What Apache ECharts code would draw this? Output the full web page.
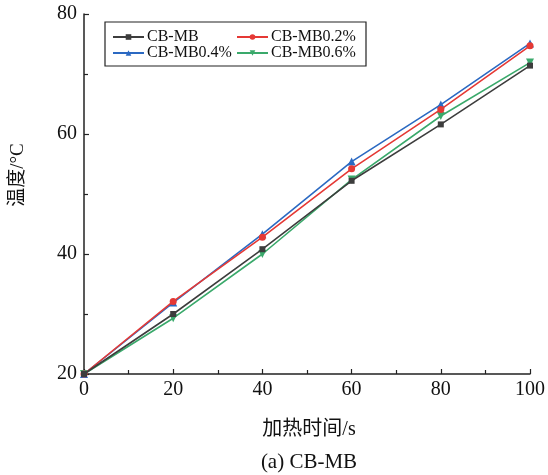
<!DOCTYPE html>
<html><head><meta charset="utf-8">
<script src="https://cdn.jsdelivr.net/npm/echarts@6/dist/echarts.min.js"></script>
<style>html,body{margin:0;padding:0;background:#fff}#c{width:548px;height:475px}</style>
</head><body><div id="c"></div>
<script>
var times = [0, 20, 40, 60, 80, 100];
var cbmb = [20, 30.0, 40.8, 52.2, 61.6, 71.4];
var cbmb02 = [20, 32.1, 42.8, 54.2, 64.1, 74.7];
var cbmb04 = [20, 31.9, 43.3, 55.4, 64.9, 75.1];
var cbmb06 = [20, 29.3, 40.0, 52.4, 63.0, 71.9];
var seriesNames = ['CB-MB', 'CB-MB0.2%', 'CB-MB0.4%', 'CB-MB0.6%'];
var xTitle = '加热时间/s';
var yTitle = '温度/°C';
var caption = '(a) CB-MB';

function pairs(v){ return times.map(function(t,i){ return [t, v[i]]; }); }
var FONT = '"Liberation Serif", "Noto Sans CJK SC", serif';
var colors = ['#3d3d3d', '#e53935', '#2b69c2', '#3aa96b'];
var symbols = ['rect', 'circle', 'triangle', 'triangle'];
var sizes = [6, 7, 8, 8];
var rot = [0, 0, 0, 180];
var data = [cbmb, cbmb02, cbmb04, cbmb06];

var series = seriesNames.map(function(n, i){
  return {
    name: n, type: 'line', data: pairs(data[i]),
    symbol: symbols[i], symbolSize: sizes[i], symbolRotate: rot[i],
    showAllSymbol: true,
    lineStyle: {color: colors[i], width: 1.6},
    itemStyle: {color: colors[i]},
    z: 10 - i
  };
});

var axisCommon = {
  axisLine: {show: true, lineStyle: {color: '#222', width: 1.5}},
  axisTick: {show: true, inside: true, length: 5, lineStyle: {color: '#222', width: 1.2}},
  minorTick: {show: true, splitNumber: 2, length: 4, lineStyle: {color: '#222', width: 1.2}},
  splitLine: {show: false},
  axisLabel: {color: '#111', fontSize: 20, fontFamily: FONT}
};

var legendCommon = {
  orient: 'vertical', itemWidth: 31, itemHeight: 7, itemGap: 0,
  textStyle: {color: '#111', fontSize: 16, fontFamily: FONT, lineHeight: 16, padding: [0,0,0,-2]},
  padding: 0
};

var txtStyle = {fill: '#111', fontFamily: FONT, align: 'center', verticalAlign: 'middle'};

var option = {
  animation: false,
  backgroundColor: '#fff',
  grid: {left: 84, right: 15, top: 14, bottom: 101, containLabel: false},
  xAxis: Object.assign({}, axisCommon, {
    type: 'value', min: 0, max: 100, interval: 20,
    axisLabel: Object.assign({}, axisCommon.axisLabel, {margin: 6})
  }),
  yAxis: Object.assign({}, axisCommon, {
    type: 'value', min: 20, max: 80, interval: 20,
    axisLabel: Object.assign({}, axisCommon.axisLabel, {margin: 7})
  }),
  legend: [
    Object.assign({}, legendCommon, {data: [seriesNames[0], seriesNames[2]], left: 112, top: 29}),
    Object.assign({}, legendCommon, {data: [seriesNames[1], seriesNames[3]], left: 236, top: 29})
  ],
  graphic: [
    {type: 'rect', shape: {x: 105, y: 22, width: 261, height: 44},
      style: {fill: 'none', stroke: '#222', lineWidth: 1.2}, z: 100},
    {type: 'text', x: 309, y: 430, style: Object.assign({text: xTitle, fontSize: 20}, txtStyle)},
    {type: 'text', x: 309, y: 462, style: Object.assign({text: caption, fontSize: 21}, txtStyle)},
    {type: 'text', x: 18, y: 175, rotation: Math.PI / 2,
      style: Object.assign({text: yTitle, fontSize: 19}, txtStyle)}
  ],
  series: series
};
echarts.init(document.getElementById('c')).setOption(option);
</script></body></html>
